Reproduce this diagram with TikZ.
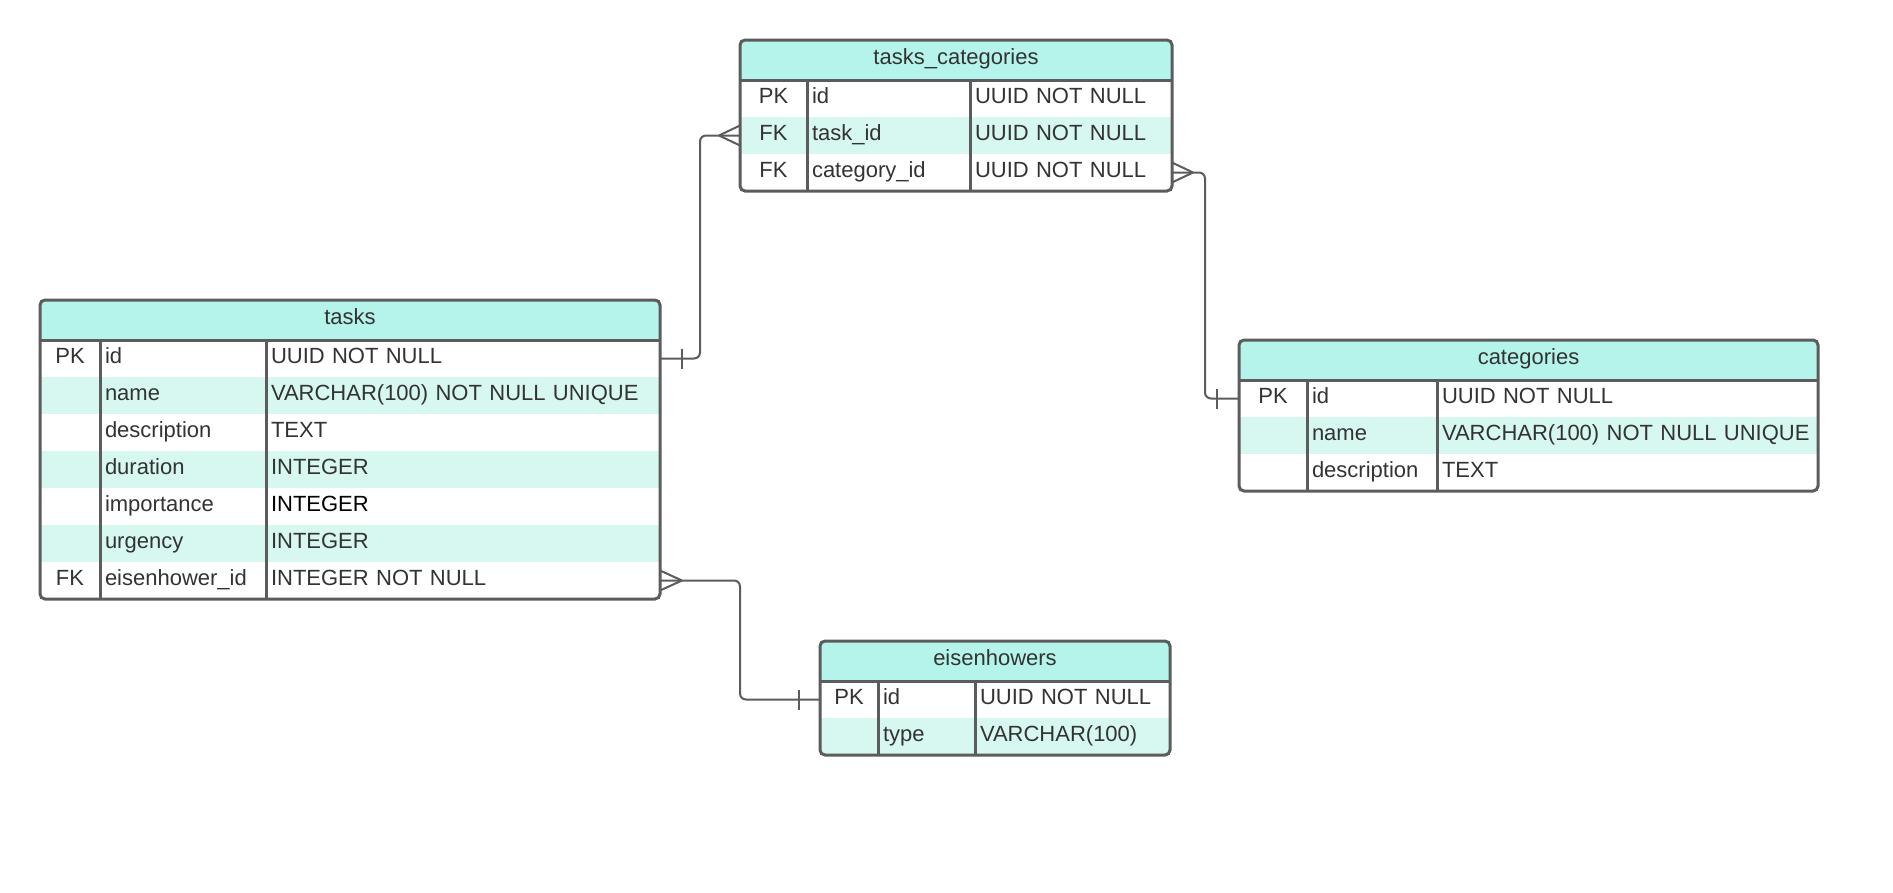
\documentclass[tikz,border=0pt]{standalone}
\usepackage{fontspec}
\setmainfont{Liberation Sans}
\usepackage{xcolor}
\usepackage{tikz}
\usetikzlibrary{positioning}

\definecolor{hdrfill}{HTML}{B5F4EA}
\definecolor{rowfill}{HTML}{D6F8F1}
\definecolor{edgegray}{HTML}{5C5C5C}
\definecolor{txtgray}{HTML}{333333}

\begin{document}
\begin{tikzpicture}[
  x=1pt, y=-1pt,
  every node/.style={font=\fontsize{22}{26}\selectfont, text=txtgray},
  hdr/.style={fill=hdrfill, anchor=north west, minimum height=40,
              inner sep=0pt, outer sep=0pt, text height=12pt, text depth=4pt},
  cell/.style={minimum height=37, inner xsep=5pt, inner ysep=0pt, outer sep=0pt,
               text height=12.5pt, text depth=3.5pt},
  kc/.style={cell, minimum width=#1, inner xsep=0pt, anchor=north west},
  fc/.style={cell, text width=#1, align=left},
  tblframe/.style={draw=edgegray, line width=3pt, rounded corners=5pt},
  rel/.style={draw=edgegray, line width=2pt, rounded corners=6pt},
  pics/crow/.style={code={\draw[rel] (#1,0) -- (0,-10) (#1,0) -- (0,10);}},
  pics/bar/.style={code={\draw[rel] (#1,-10) -- (#1,10);}},
]
\useasboundingbox (0,0) rectangle (1893,892);

% tasks_categories
\node[hdr, minimum width=432] (tc) at (740,40) {tasks\_categories};
\foreach \k/\f/\t/\c [count=\i] in {
    PK/id/UUID NOT NULL/white,
    FK/task\_id/UUID NOT NULL/rowfill,
    FK/category\_id/UUID NOT NULL/white}{
  \node[kc=67, fill=\c] (tc-k\i) at ([yshift={-(\i-1)*37pt}]tc.south west) {\k};
  \node[fc=153, fill=\c, right=0pt of tc-k\i] (tc-f\i) {\f};
  \node[fc=192, fill=\c, right=0pt of tc-f\i] (tc-t\i) {\t};
}
\draw[tblframe] (tc.south west) -- (tc.south east);
\draw[tblframe] (tc-f1.north west) -- (tc-f3.south west);
\draw[tblframe] (tc-t1.north west) -- (tc-t3.south west);
\draw[tblframe] (tc.north west) rectangle (tc-t3.south east);

% tasks
\node[hdr, minimum width=620] (tk) at (40,300) {tasks};
\foreach \k/\f/\t/\c [count=\i] in {
    PK/id/UUID NOT NULL/white,
    {}/name/VARCHAR(100) NOT NULL UNIQUE/rowfill,
    {}/description/TEXT/white,
    {}/duration/INTEGER/rowfill,
    {}/importance/{\textcolor{black}{INTEGER}}/white,
    {}/urgency/INTEGER/rowfill,
    FK/eisenhower\_id/INTEGER NOT NULL/white}{
  \node[kc=60, fill=\c] (tk-k\i) at ([yshift={-(\i-1)*37pt}]tk.south west) {\k};
  \node[fc=156, fill=\c, right=0pt of tk-k\i] (tk-f\i) {\f};
  \node[fc=384, fill=\c, right=0pt of tk-f\i] (tk-t\i) {\t};
}
\draw[tblframe] (tk.south west) -- (tk.south east);
\draw[tblframe] (tk-f1.north west) -- (tk-f7.south west);
\draw[tblframe] (tk-t1.north west) -- (tk-t7.south west);
\draw[tblframe] (tk.north west) rectangle (tk-t7.south east);

% categories
\node[hdr, minimum width=579] (ct) at (1239,340) {categories};
\foreach \k/\f/\t/\c [count=\i] in {
    PK/id/UUID NOT NULL/white,
    {}/name/VARCHAR(100) NOT NULL UNIQUE/rowfill,
    {}/description/TEXT/white}{
  \node[kc=68, fill=\c] (ct-k\i) at ([yshift={-(\i-1)*37pt}]ct.south west) {\k};
  \node[fc=120, fill=\c, right=0pt of ct-k\i] (ct-f\i) {\f};
  \node[fc=371, fill=\c, right=0pt of ct-f\i] (ct-t\i) {\t};
}
\draw[tblframe] (ct.south west) -- (ct.south east);
\draw[tblframe] (ct-f1.north west) -- (ct-f3.south west);
\draw[tblframe] (ct-t1.north west) -- (ct-t3.south west);
\draw[tblframe] (ct.north west) rectangle (ct-t3.south east);

% eisenhowers
\node[hdr, minimum width=350] (ei) at (820,641) {eisenhowers};
\foreach \k/\f/\t/\c [count=\i] in {
    PK/id/UUID NOT NULL/white,
    {}/type/VARCHAR(100)/rowfill}{
  \node[kc=58, fill=\c] (ei-k\i) at ([yshift={-(\i-1)*37pt}]ei.south west) {\k};
  \node[fc=87, fill=\c, right=0pt of ei-k\i] (ei-f\i) {\f};
  \node[fc=185, fill=\c, right=0pt of ei-f\i] (ei-t\i) {\t};
}
\draw[tblframe] (ei.south west) -- (ei.south east);
\draw[tblframe] (ei-f1.north west) -- (ei-f2.south west);
\draw[tblframe] (ei-t1.north west) -- (ei-t2.south west);
\draw[tblframe] (ei.north west) rectangle (ei-t2.south east);

% relations
\draw[rel] (tk-t1.east) -- ++(40,0) |- (tc-k2.west);
\pic at (tk-t1.east) {bar=22};
\pic at (tc-k2.west) {crow=-21};

\draw[rel] (tc-t3.east) -- ++(33,0) |- (ct-k1.west);
\pic at (tc-t3.east) {crow=21};
\pic at (ct-k1.west) {bar=-22};

\draw[rel] (tk-t7.east) -- ++(80,0) |- (ei-k1.west);
\pic at (tk-t7.east) {crow=22};
\pic at (ei-k1.west) {bar=-21};
\end{tikzpicture}
\end{document}
